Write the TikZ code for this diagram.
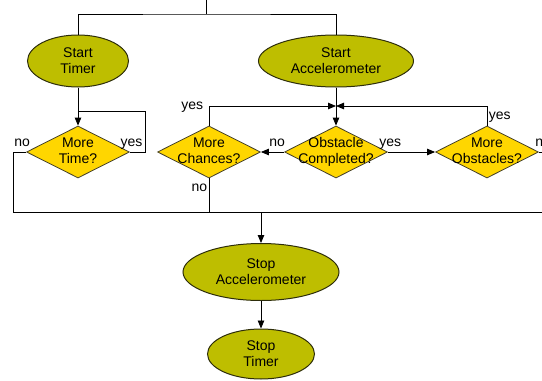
\documentclass[tikz,border=0pt]{standalone}
\usepackage{fontspec}
\setmainfont{Liberation Sans}
\usetikzlibrary{shapes.geometric, arrows.meta}
\definecolor{statefill}{RGB}{190,190,0}
\definecolor{statedraw}{RGB}{45,45,10}
\definecolor{decfill}{RGB}{255,214,0}
\definecolor{decdraw}{RGB}{70,65,40}
\newcommand{\labelfont}{\fontsize{14}{16}\selectfont}
\newcommand{\dtxt}[2]{\makebox[0pt]{\raisebox{-0.25em}[0pt][0pt]{\begin{tabular}{@{}c@{}}#1\\#2\end{tabular}}}}
\tikzstyle{startstop} = [ellipse, minimum height=52pt, inner sep=0pt, align=center, draw=statedraw, line width=1pt, fill=statefill, font=\labelfont]
\tikzstyle{decision} = [diamond, aspect=2, minimum width=103pt, minimum height=52pt, inner sep=0pt, draw=decdraw, line width=0.8pt, fill=decfill, font=\labelfont]
\tikzstyle{arrow} = [-{Triangle[length=8pt,width=6.5pt]}]
\tikzstyle{lbl} = [inner sep=1.5pt, text height=1.5ex, text depth=0.25ex, font=\labelfont]

\begin{document}
\begin{tikzpicture}[x=1pt, y=1pt, node distance=91pt, line width=0.8pt]
    \useasboundingbox (0,0) rectangle (542,-381);
    \clip (0,0) rectangle (542,-381);
    \node (timer) [startstop, minimum width=101pt] at (78,-61) {Start\\Timer};
    \node (accel) [startstop, minimum width=155pt, right of=timer, xshift=167pt] {Start\\Accelerometer};
    \node (moretime) [decision, below of=timer] {\dtxt{More}{Time?}};
    \node (obst) [decision, below of=accel] {\dtxt{Obstacle}{Completed?}};
    \node (chances) [decision, left of=obst, xshift=-36pt] {\dtxt{More}{Chances?}};
    \node (obstacles) [decision, right of=obst, xshift=60pt] {\dtxt{More}{Obstacles?}};
    \node (stopaccel) [startstop, minimum width=156pt, minimum height=57pt, below of=chances, xshift=52pt, yshift=-29pt] {Stop\\Accelerometer};
    \node (stoptimer) [startstop, minimum width=107pt, minimum height=50pt, below of=stopaccel, yshift=9pt] {Stop\\Timer};
    \coordinate (top) at (206,0);
    \coordinate (split) at (206,-14);
    \coordinate (timejoin) at (78,-111);
    \coordinate (loopturn) at (145,-111);
    \coordinate (merge) at (336,-106);
    \coordinate (leftturn) at (13,-212);
    \coordinate (rightturn) at (560,-212);
    \coordinate (downjoin) at (stopaccel |- leftturn);
    \draw (top) -- (split);
    \draw (timer.north) |- (split) -| (accel.north);
    \draw [arrow] (timer) -- (moretime);
    \draw (moretime.east) -| node[lbl, above, pos=0.05, yshift=2.5pt] {yes} (loopturn) -- (timejoin);
    \draw (moretime.west) -| node[lbl, above, pos=0.15, yshift=2.5pt] {no} (leftturn) -- (rightturn);
    \draw [arrow] (accel) -- (obst);
    \draw [arrow] (chances.north) |- node[lbl, left, pos=0.5, xshift=-4pt] {yes} (merge);
    \draw [arrow] (obstacles.north) |- node[lbl, right, pos=0.25] {yes} (merge);
    \draw [arrow] (obst.west) -- node[lbl, above, pos=0.3, yshift=2.5pt] {no} (chances.east);
    \draw [arrow] (obst.east) -- node[lbl, above, pos=0.05, yshift=2.5pt] {yes} (obstacles.west);
    \draw (chances.south) -- node[lbl, left, pos=0.3] {no} (chances |- leftturn);
    \draw (obstacles.east) -| node[lbl, above, pos=0.1, yshift=2.5pt] {no} (rightturn);
    \draw [arrow] (downjoin) -- (stopaccel);
    \draw [arrow] (stopaccel) -- (stoptimer);
\end{tikzpicture}
\end{document}
